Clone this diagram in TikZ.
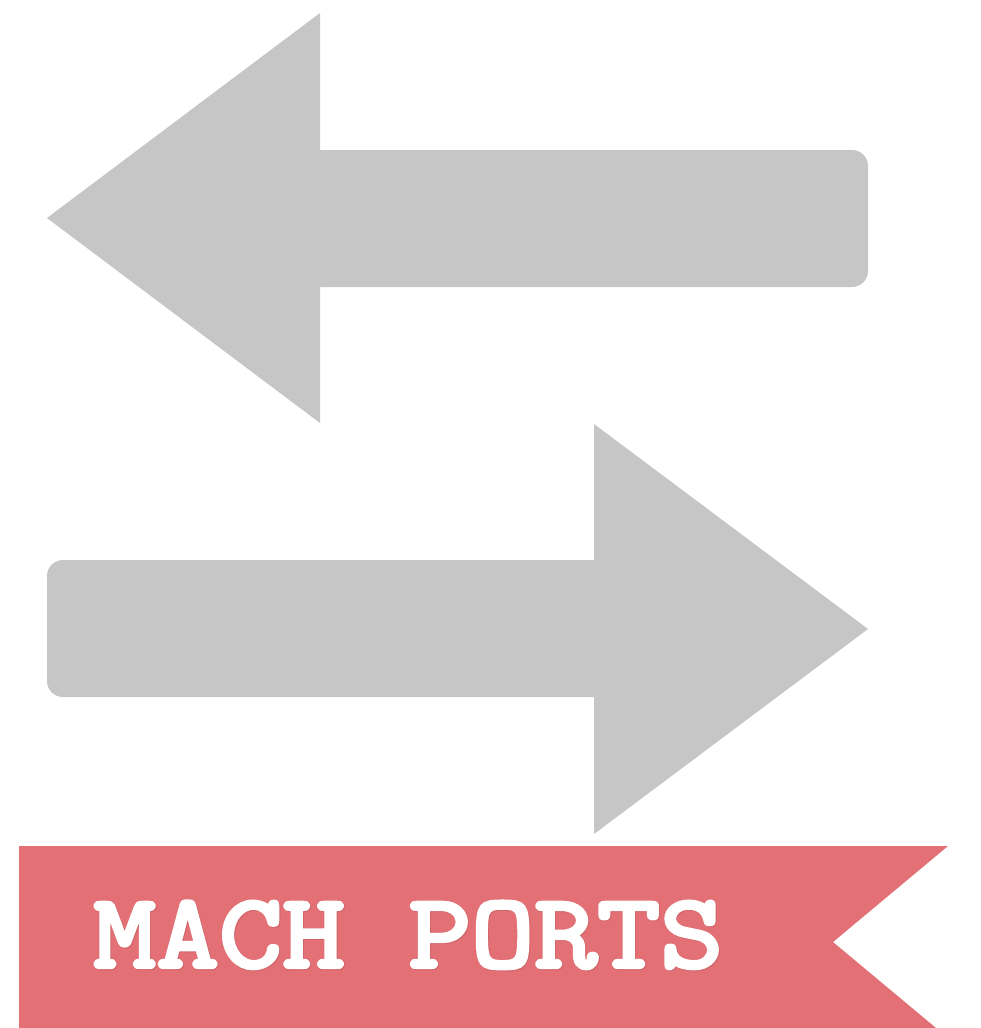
\documentclass[tikz,border=0pt]{standalone}
\usepackage{fontspec}
\newfontfamily\bannerfont[FakeBold=4,FakeStretch=1.165]{Latin Modern Mono}
\definecolor{arrowgray}{HTML}{C6C6C6}
\definecolor{bannerred}{HTML}{E27074}
\definecolor{haloshade}{HTML}{B9565B}
\tikzset{
  arrowshape/.style={fill=arrowgray,draw=none},
  bannershape/.style={fill=bannerred,draw=none},
  bannertext/.style={inner sep=0pt,anchor=base west,font=\bannerfont\fontsize{105}{105}\selectfont}
}
\begin{document}
\begin{tikzpicture}[x=1pt,y=-1pt,line join=round,line cap=round]
\useasboundingbox (0,0) rectangle (980,1028);
\fill[white] (0,0) rectangle (980,1028);
\fill[arrowshape] (47,218) -- (320,13) -- (320,150) -- (852,150)
  .. controls (860.8,150) and (868,157.2) .. (868,166) -- (868,271)
  .. controls (868,279.8) and (860.8,287) .. (852,287)
  -- (320,287) -- (320,423) -- cycle;
\fill[arrowshape] (868,629) -- (594,424) -- (594,560) -- (63,560)
  .. controls (54.2,560) and (47,567.2) .. (47,576) -- (47,681)
  .. controls (47,689.8) and (54.2,697) .. (63,697)
  -- (594,697) -- (594,834) -- cycle;
\fill[bannershape] (19,846) -- (948,846) -- (833,942) -- (936,1028) -- (19,1028) -- cycle;
\node[bannertext,text=haloshade,opacity=.4] at (94,968) {MACH PORTS};
\node[bannertext,text=white] (title) at (93,967) {MACH PORTS};
\end{tikzpicture}
\end{document}
